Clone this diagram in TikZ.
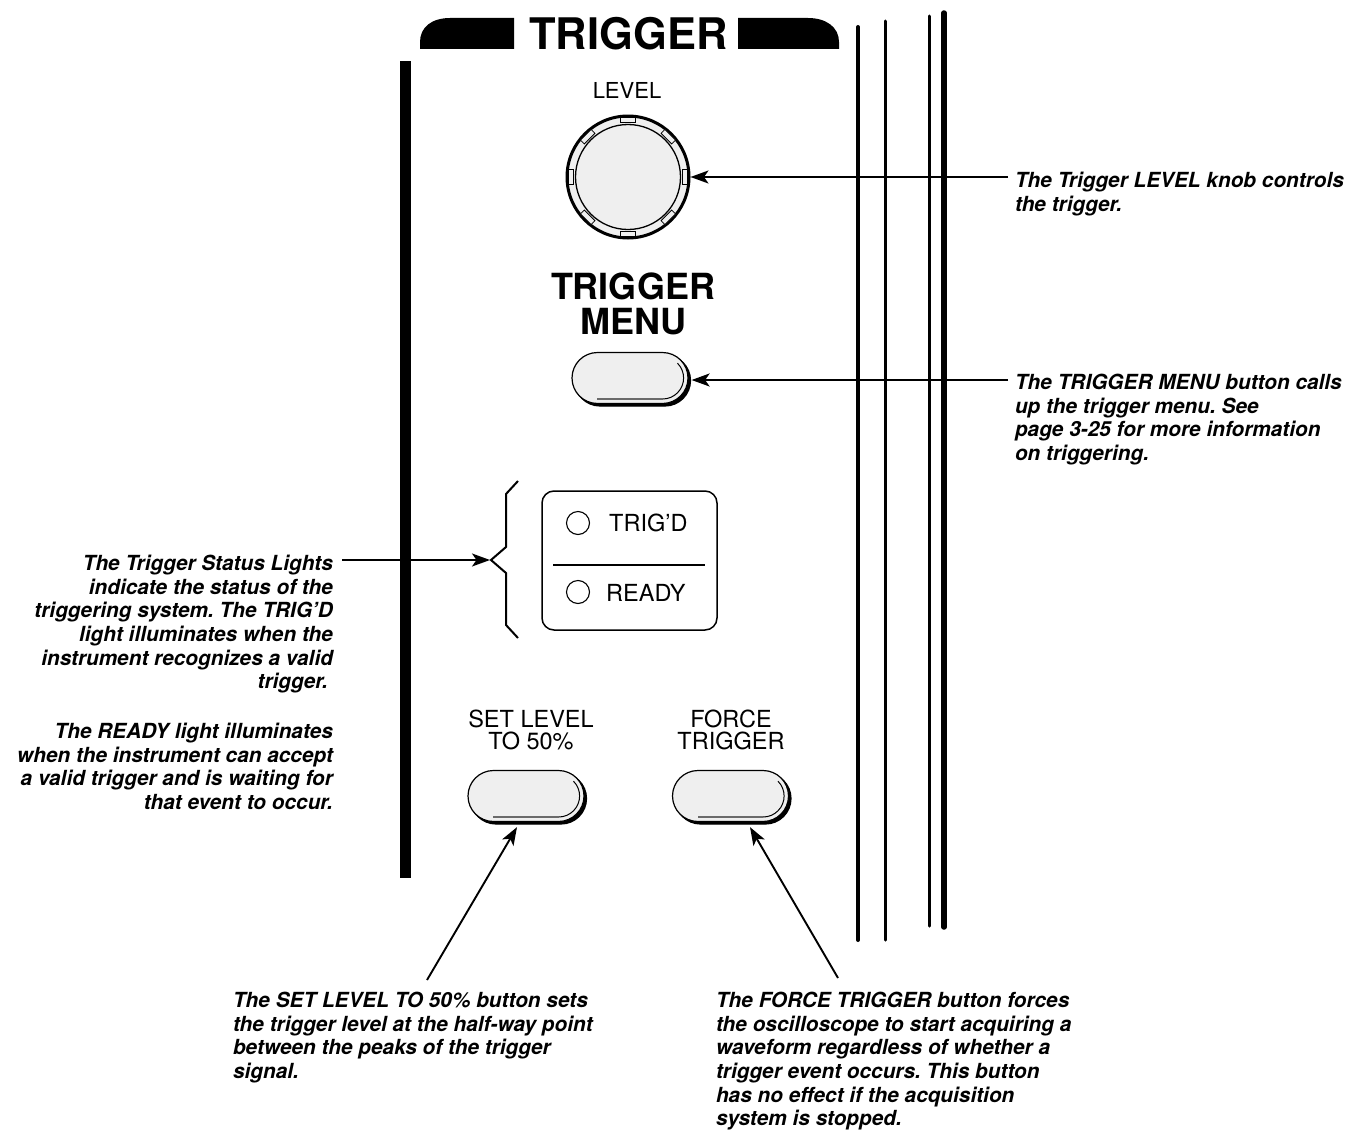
\documentclass[tikz,border=0pt]{standalone}
\usepackage{fontspec}
\setmainfont{TeX Gyre Heros}
\usetikzlibrary{arrows.meta,shapes.misc,shadows}
\definecolor{knobgray}{HTML}{EFEFEF}
\definecolor{linegray}{HTML}{6A6A6A}
\frenchspacing
\begin{document}
\begin{tikzpicture}[x=1pt,y=-1pt,
  note/.style={font=\fontsize{20.8}{23.7}\selectfont\bfseries\itshape, inner sep=0pt, outer sep=0pt},
  lbl/.style={font=\fontsize{23.5}{22}\selectfont, inner sep=0pt, align=center},
  arr/.style={line width=1.9pt, -{Stealth[length=18pt,width=13pt,inset=4.5pt]}},
  vline/.style={line cap=round},
  btn/.style={rounded rectangle, draw, line width=1.2pt, fill=knobgray, minimum width=116pt,
    minimum height=51pt, inner sep=0pt,
    copy shadow={shadow xshift=2.5pt, shadow yshift=-2.5pt, fill=black, draw=black}},
  led/.style={circle, draw, line width=1.1pt, minimum size=23pt, inner sep=0pt},
  notch/.style={draw, line width=0.8pt, fill=knobgray, minimum width=5.5pt, minimum height=15pt, inner sep=0pt}
]
\useasboundingbox (0,0) rectangle (1351,1132);

% banner
\fill (514,49) -- (420,49) -- (420,42) .. controls (420,27) and (432,18) .. (450,18) -- (514,18) -- cycle;
\fill (738,49) -- (738,18) -- (808,18) .. controls (826,18) and (839,27) .. (839,42) -- (839,49) -- cycle;
\node[font=\fontsize{43.5}{43}\selectfont\bfseries, inner sep=0pt, anchor=base] (title) at (628.5,49) {TRIGGER};

% left bar
\fill (400,61) rectangle (411,878);

% right panel lines
\draw[vline, line width=4pt] (858,27) -- (858,940);
\draw[vline, line width=3pt] (885,21) -- (885,940);
\draw[vline, line width=3pt] (929,16) -- (929,926);
\draw[vline, line width=5.5pt] (944,13) -- (944,927);

% level knob
\node[lbl, font=\fontsize{22}{22}\selectfont, anchor=base] (lvl) at (627,98) {LEVEL};
\node[circle, draw, line width=3pt, fill=knobgray, minimum size=122pt, inner sep=0pt] (knob) at (628,177) {};
\node[circle, draw, line width=1.3pt, minimum size=105pt, inner sep=0pt] (knobin) at (knob.center) {};
\foreach \a in {0,45,...,315}
  \node[notch, rotate=-\a] at ([shift={(\a:57)}]knob.center) {};

% trigger menu
\node[font=\fontsize{36}{35}\selectfont\bfseries, inner sep=0pt, align=center, anchor=north] (menulbl) at (633,273) {TRIGGER\\MENU};
\node[btn] (menub) at (630,378) {};

% status lights
\node[draw, rounded corners=12pt, line width=1.5pt, minimum width=175pt, minimum height=139pt, inner sep=0pt] (status) at (629.5,560.5) {};
\draw[line width=1.2pt] (553,565) -- (705,565);
\node[led] (ledT) at (578,523) {};
\node[led] (ledR) at (578,592) {};
\node[lbl, anchor=base west] (tT) at (609,531) {TRIG’D};
\node[lbl, anchor=base west] (tR) at (606,601) {READY};
\draw[line width=2pt, line join=miter] (518,481) -- (506,494) -- (506,547) -- (491,560) -- (506,573) -- (506,625) -- (518,638);
\coordinate (bracetip) at (490,560);

% set level / force trigger
\node[lbl, anchor=north] (setlbl) at (531,710) {SET LEVEL\\TO 50\%};
\node[lbl, anchor=north] (forcelbl) at (731,710) {FORCE\\TRIGGER};
\node[btn] (setb) at (526,796) {};
\node[btn] (forceb) at (730.5,796) {};

% button highlights
\foreach \b in {menub,setb,forceb} {
  \draw[line width=1pt] ([shift={(-26,0)}]\b.east) ++(-45:21) arc[start angle=-45, end angle=90, radius=21];
  \draw[linegray, line width=2pt] ([shift={(-26,21)}]\b.east) -- ([shift={(26,21)}]\b.west);
}

% notes
\node[note, align=left, anchor=north west] (knobnote) at (1015,172) {The Trigger LEVEL knob controls\\the trigger.};
\node[note, align=left, anchor=north west] (menunote) at (1015,374) {The TRIGGER MENU button calls\\up the trigger menu. See\\page 3-25 for more information\\on triggering.};
\node[note, align=right, anchor=north east] (statusnote) at (333,555) {The Trigger Status Lights\\indicate the status of the\\triggering system. The TRIG’D\\light illuminates when the\\instrument recognizes a valid\\trigger.\hspace*{5pt}};
\node[note, align=right, anchor=north east] (readynote) at (333,723) {The READY light illuminates\\when the instrument can accept\\a valid trigger and is waiting for\\that event to occur.};
\node[note, align=left, anchor=north west] (setnote) at (233,992) {The SET LEVEL TO 50\% button sets\\the trigger level at the half-way point\\between the peaks of the trigger\\signal.};
\node[note, align=left, anchor=north west] (forcenote) at (716,992) {The FORCE TRIGGER button forces\\the oscilloscope to start acquiring a\\waveform regardless of whether a\\trigger event occurs. This button\\has no effect if the acquisition\\system is stopped.};

% connectors
\coordinate (knobtail) at (1008,177);
\draw[arr] (knobtail) -- (knob.east);
\coordinate (menutail) at (1008,380);
\draw[arr] (menutail) -- ([shift={(3,2)}]menub.east);
\coordinate (stail) at (342,560);
\draw[arr] (stail) -- (bracetip);
\coordinate (settail) at (427,980);
\draw[arr] (settail) -- ([shift={(-9,5)}]setb.south);
\coordinate (forcetail) at (838,978);
\draw[arr] (forcetail) -- ([shift={(19.5,5)}]forceb.south);
\end{tikzpicture}
\end{document}
